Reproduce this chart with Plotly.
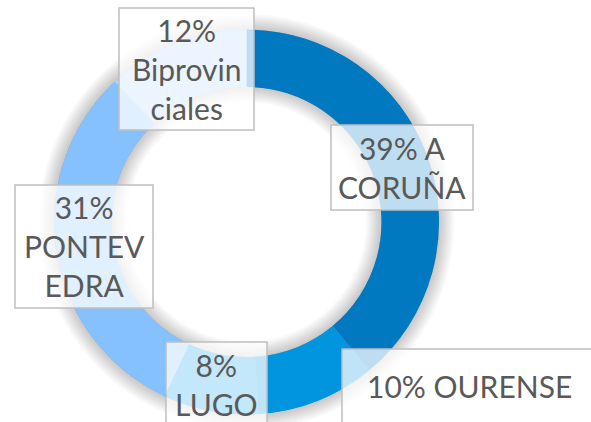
import plotly.graph_objects as go

# ---- data ----
categories = ["A CORUÑA", "OURENSE", "LUGO", "PONTEVEDRA", "Biprovinciales"]
values = [39, 10, 8, 31, 12]
label_lines = [["A", "CORUÑA"], ["OURENSE"], ["LUGO"], ["PONTEV", "EDRA"], ["Biprovin", "ciales"]]
pct_sep = [" ", " ", "<br>", "<br>", "<br>"]
colors = ["#0079C1", "#0095DE", "#129FEE", "#85C1FF", "#B0D2FD"]

W, H = 591, 422
CX, CY = 246.5, 222.0     # pixel centre of ring
R_OUT, R_IN = 192.5, 135.0

def domain(r):
    return dict(x=[(CX - r) / W, (CX + r) / W],
                y=[(H - CY - r) / H, (H - CY + r) / H])

def circle(r, color):
    return dict(type="circle", xref="paper", yref="paper", layer="below",
                x0=(CX - r) / W, x1=(CX + r) / W,
                y0=(H - CY - r) / H, y1=(H - CY + r) / H,
                fillcolor=color, line=dict(width=0))

fig = go.Figure()

N = 9
STEP = 1.7
ALPHA = 0.022
shapes = []
for k in range(N, 0, -1):
    shapes.append(circle(R_OUT + k * STEP, f"rgba(0,0,0,{ALPHA})"))
shapes.append(circle(R_IN, "white"))

for k in range(N, 0, -1):
    ri = R_IN - k * STEP
    fig.add_trace(go.Pie(values=[1], labels=["s"],
                         marker=dict(colors=[f"rgba(0,0,0,{ALPHA})"], line=dict(width=0)),
                         hole=ri / R_OUT, domain=domain(R_OUT), textinfo="none", hoverinfo="skip",
                         sort=False, showlegend=False))

fig.add_trace(go.Pie(
    labels=categories, values=values, sort=False, direction="clockwise", rotation=0,
    hole=R_IN / R_OUT, domain=domain(R_OUT),
    marker=dict(colors=colors, line=dict(width=0)),
    textinfo="none", hoverinfo="label+percent", showlegend=False))

# label boxes: (left, top, outer w, outer h) in pixels
boxes = [(331, 125, 142, 85), (342, 349, 290, 110), (166, 342, 101, 120),
         (15, 185, 138, 123), (119, 8, 135, 122)]
# text block centre (x, y) in pixels
text_centres = [(402, 167.5), (469, 386), (216, 384), (84, 246.5), (186.5, 69)]

bw = 1.5
for v, sep, lines, (bl, bt, ow, oh), (tx, ty) in zip(values, pct_sep, label_lines, boxes, text_centres):
    txt = f"{v}%" + sep + "<br>".join(lines)
    # box (empty text)
    fig.add_shape(type="rect", xref="paper", yref="paper",
                  x0=bl / W, x1=(bl + ow) / W, y0=1 - (bt + oh) / H, y1=1 - bt / H,
                  fillcolor="rgba(255,255,255,0.75)", line=dict(color="#BFBFBF", width=bw),
                  layer="above")
    fig.add_annotation(
        x=tx / W, y=1 - ty / H, xref="paper", yref="paper",
        xanchor="center", yanchor="middle",
        text=txt, showarrow=False, align="center",
        font=dict(family="Lato", size=30, color="#595959"))

fig.update_layout(width=W, height=H, margin=dict(l=0, r=0, t=0, b=0),
                  paper_bgcolor="white", plot_bgcolor="white", showlegend=False)
for s in shapes[::-1]:
    fig.layout.shapes = (s,) + tuple(fig.layout.shapes)

fig.write_html("out.html", config={"displayModeBar": False},
               post_script="document.body.style.margin='0px';document.body.style.overflow='hidden';")
